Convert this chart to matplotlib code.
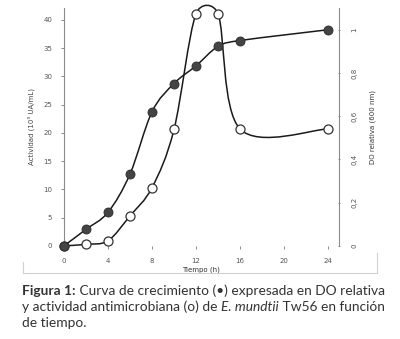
"""Growth curve (DO) and antimicrobial activity of E. mundtii Tw56."""
import matplotlib.pyplot as plt
import numpy as np
from matplotlib.lines import Line2D
from matplotlib.patches import PathPatch
from matplotlib.path import Path

hours = [0, 2, 4, 6, 8, 10, 12, 14, 16, 24]
do_relativa = [0, 0.076, 0.155, 0.332, 0.62, 0.751, 0.833, 0.923, 0.95, 1.0]
actividad = [0, 0.25, 0.9, 5.3, 10.3, 20.6, 41.1, 41.1, 20.7, 20.7]

x_ticks = [0, 4, 8, 12, 16, 20, 24]
left_ticks = [0, 5, 10, 15, 20, 25, 30, 35, 40]
right_ticks = [0, 0.2, 0.4, 0.6, 0.8, 1.0]
right_labels = ["0", "0,2", "0,4", "0,6", "0,8", "1"]

TICK_GREY = "#555555"
SPINE_GREY = "#8a8a8a"
TEXT = "#333333"


def smooth_path(ax, xs, ys, cap=0.55):
    """Excel-like smoothed line (Catmull-Rom in display space)."""
    pts = ax.transData.transform(np.column_stack([xs, ys]))
    n = len(pts)
    verts, codes = [pts[0]], [Path.MOVETO]
    for i in range(n - 1):
        p0, p1 = pts[max(i - 1, 0)], pts[i]
        p2, p3 = pts[i + 1], pts[min(i + 2, n - 1)]
        seg = np.hypot(*(p2 - p1))
        t1, t2 = (p2 - p0) / 6, (p3 - p1) / 6
        for t in (t1, t2):
            ln = np.hypot(*t)
            if ln > cap * seg:
                t *= cap * seg / ln
        verts += [p1 + t1, p2 - t2, p2]
        codes += [Path.CURVE4] * 3
    verts = ax.transData.inverted().transform(np.array(verts))
    return Path(verts, codes)


fig = plt.figure(figsize=(4.0, 3.39), dpi=100)
ax = fig.add_axes([0.16, 0.275, 0.6875, 0.701])
ax2 = ax.twinx()

ax.set_xlim(0, 25)
ax.set_ylim(0, 42.1)
ax2.set_ylim(0, 1.1)

for a in (ax, ax2):
    for s in a.spines.values():
        s.set_visible(False)
ax.spines["left"].set_visible(True)
ax.spines["left"].set_color(SPINE_GREY)
ax2.spines["right"].set_visible(True)
ax2.spines["right"].set_color(SPINE_GREY)

ax.set_xticks(x_ticks)
ax.set_yticks(left_ticks)
ax2.set_yticks(right_ticks)
ax2.set_yticklabels(right_labels, rotation=90, va="center")
ax.tick_params(axis="both", labelsize=5, colors=SPINE_GREY, labelcolor=TICK_GREY,
               length=2.5, width=0.7, pad=6)
ax.tick_params(axis="x", pad=6)
ax2.tick_params(axis="y", labelsize=5, colors=SPINE_GREY, labelcolor=TICK_GREY,
                length=2, width=0.7, direction="inout", pad=8)

ax.set_ylabel("Actividad (10³ UA/mL)", fontsize=5, color="#444444", labelpad=6)
ax2.set_ylabel("DO relativa (600 nm)", fontsize=5, color="#333333", labelpad=9)
ax.set_xlabel("Tiempo (h)", fontsize=5, color="#333333", labelpad=2)

# open circles: antimicrobial activity (left axis)
ax.add_patch(PathPatch(smooth_path(ax, hours, actividad), fill=False,
                       edgecolor="#1a1a1a", lw=1.1, zorder=2, clip_on=False))
ax.plot(hours, actividad, "o", ms=6.5, mfc="white", mec="#333333", mew=0.9,
        zorder=3, clip_on=False)

# filled circles: growth (right axis)
ax2.add_patch(PathPatch(smooth_path(ax2, hours, do_relativa), fill=False,
                        edgecolor="#1a1a1a", lw=1.1, zorder=2, clip_on=False))
ax2.plot(hours, do_relativa, "o", ms=6.5, mfc="#444444", mec="#2a2a2a", mew=0.6,
         zorder=3, clip_on=False)

# faint frame pieces round the chart
for xy in [((23 / 400, 377 / 400), (66 / 339, 66 / 339)),
           ((23 / 400, 23 / 400), (66 / 339, 77 / 339)),
           ((377 / 400, 377 / 400), (66 / 339, 86 / 339))]:
    fig.add_artist(Line2D(*xy, color="#d0d0d0", lw=0.8))

# caption
cap_font = dict(family="Lato", fontsize=9.95, color=TEXT)
renderer = fig.canvas.get_renderer()


def text_run(x, y, parts):
    for s, kw in parts:
        t = fig.text(x, y, s, va="baseline", ha="left", **cap_font, **kw)
        bb = t.get_window_extent(renderer)
        x += bb.width / fig.bbox.width


text_run(22 / 400, 1 - 295 / 339, [("Figura 1:", dict(weight="bold")),
                                    (" Curva de crecimiento (•) expresada en DO relativa", {})])
text_run(22 / 400, 1 - 311 / 339, [("y actividad antimicrobiana (o) de ", {}),
                                    ("E. mundtii", dict(style="italic")),
                                    (" Tw56 en función", {})])
text_run(22 / 400, 1 - 327 / 339, [("de tiempo.", {})])

fig.savefig("out.png", dpi=100)
